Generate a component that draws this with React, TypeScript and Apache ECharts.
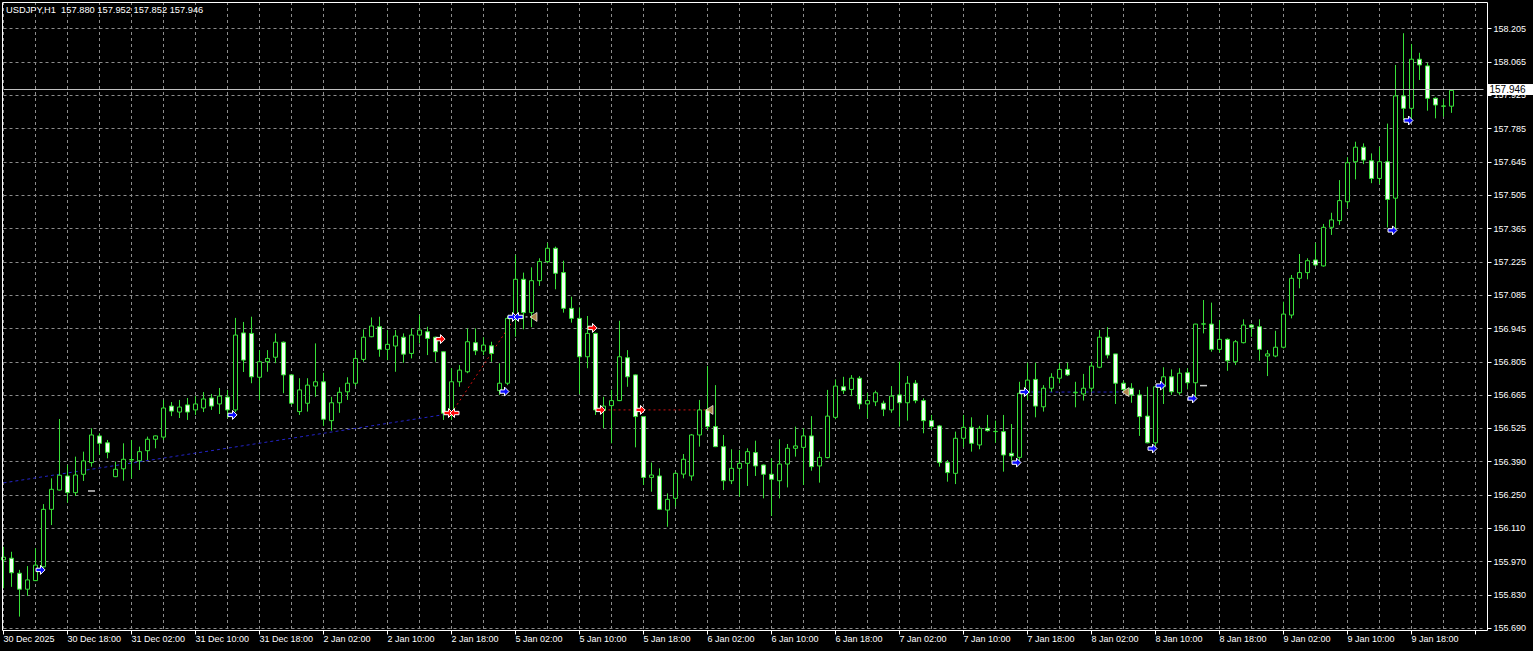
import React, { useEffect, useRef } from 'react';
import * as echarts from 'echarts';

// ---- categories (hourly bars, H1) ----
const dayHours: [string, number, number][] = [
  ['30 Dec', 10, 23], ['31 Dec', 0, 23], ['2 Jan', 0, 23], ['5 Jan', 0, 23],
  ['6 Jan', 0, 23], ['7 Jan', 0, 23], ['8 Jan', 0, 23], ['9 Jan', 0, 23],
];
const emptySlots = 4;
const firstLabel = '30 Dec 2025';

// ---- candles: [open, close, low, high] ----
const candles: number[][] = [
  [155.977, 155.988, 155.858, 156.032], [155.984, 155.923, 155.864, 156.011], [155.921, 155.854, 155.739, 155.935],
  [155.854, 155.893, 155.826, 155.951], [155.890, 155.955, 155.888, 156.026], [155.948, 156.189, 155.945, 156.211],
  [156.189, 156.273, 156.123, 156.319], [156.270, 156.332, 156.268, 156.568], [156.329, 156.259, 156.217, 156.375],
  [156.259, 156.333, 156.245, 156.410], [156.336, 156.392, 156.308, 156.431], [156.385, 156.501, 156.368, 156.529],
  [156.497, 156.466, 156.417, 156.508], [156.468, 156.428, 156.403, 156.480], [156.326, 156.357, 156.324, 156.389],
  [156.359, 156.399, 156.309, 156.466], [156.396, 156.398, 156.319, 156.480], [156.393, 156.431, 156.354, 156.452],
  [156.435, 156.483, 156.396, 156.494], [156.483, 156.497, 156.445, 156.499], [156.492, 156.614, 156.480, 156.648],
  [156.622, 156.601, 156.580, 156.639], [156.597, 156.618, 156.572, 156.648], [156.627, 156.597, 156.564, 156.656],
  [156.606, 156.631, 156.585, 156.664], [156.614, 156.652, 156.597, 156.681], [156.656, 156.622, 156.606, 156.673],
  [156.631, 156.664, 156.589, 156.698], [156.660, 156.606, 156.572, 156.690], [156.606, 156.920, 156.597, 156.992],
  [156.929, 156.815, 156.765, 156.975], [156.927, 156.745, 156.718, 156.997], [156.743, 156.808, 156.648, 156.857],
  [156.808, 156.822, 156.766, 156.857], [156.827, 156.890, 156.802, 156.927], [156.890, 156.753, 156.676, 156.893],
  [156.753, 156.634, 156.627, 156.755], [156.599, 156.690, 156.585, 156.739], [156.634, 156.710, 156.599, 156.739],
  [156.706, 156.724, 156.661, 156.885], [156.724, 156.567, 156.539, 156.762], [156.561, 156.636, 156.519, 156.661],
  [156.636, 156.680, 156.594, 156.701], [156.682, 156.718, 156.648, 156.743], [156.718, 156.822, 156.706, 156.857],
  [156.818, 156.911, 156.808, 156.944], [156.913, 156.958, 156.911, 156.994], [156.955, 156.860, 156.829, 156.997],
  [156.860, 156.881, 156.815, 156.941], [156.874, 156.916, 156.766, 156.941], [156.911, 156.840, 156.804, 156.927],
  [156.843, 156.920, 156.822, 156.948], [156.920, 156.941, 156.885, 157.004], [156.934, 156.906, 156.836, 156.955],
  [156.911, 156.850, 156.808, 156.913], [156.850, 156.592, 156.564, 156.852], [156.585, 156.724, 156.564, 156.781],
  [156.724, 156.773, 156.703, 156.794], [156.766, 156.892, 156.760, 156.948], [156.888, 156.854, 156.836, 156.948],
  [156.853, 156.878, 156.836, 156.911], [156.875, 156.843, 156.808, 156.892], [156.687, 156.718, 156.669, 156.802],
  [156.718, 156.990, 156.710, 157.000], [156.994, 157.154, 156.913, 157.256], [157.154, 157.014, 156.944, 157.182],
  [157.014, 157.148, 156.953, 157.204], [157.148, 157.228, 157.126, 157.242], [157.228, 157.284, 157.221, 157.307],
  [157.284, 157.179, 157.112, 157.291], [157.182, 157.032, 157.014, 157.232], [157.032, 156.990, 156.972, 157.081],
  [156.990, 156.829, 156.673, 157.036], [156.829, 156.927, 156.781, 157.000], [156.927, 156.606, 156.585, 156.930],
  [156.603, 156.622, 156.529, 156.661], [156.624, 156.645, 156.466, 156.690], [156.645, 156.829, 156.643, 156.980],
  [156.825, 156.745, 156.703, 156.857], [156.753, 156.578, 156.449, 156.755], [156.578, 156.323, 156.291, 156.580],
  [156.323, 156.333, 156.263, 156.385], [156.329, 156.189, 156.186, 156.361], [156.186, 156.231, 156.116, 156.256],
  [156.235, 156.340, 156.200, 156.347], [156.337, 156.399, 156.319, 156.421], [156.329, 156.501, 156.309, 156.505],
  [156.501, 156.606, 156.452, 156.648], [156.606, 156.536, 156.522, 156.790], [156.536, 156.452, 156.450, 156.710],
  [156.452, 156.309, 156.270, 156.501], [156.309, 156.361, 156.295, 156.441], [156.361, 156.382, 156.242, 156.438],
  [156.382, 156.431, 156.287, 156.445], [156.427, 156.371, 156.329, 156.477], [156.375, 156.336, 156.235, 156.377],
  [156.336, 156.315, 156.161, 156.403], [156.309, 156.379, 156.235, 156.483], [156.379, 156.445, 156.281, 156.463],
  [156.445, 156.455, 156.410, 156.536], [156.449, 156.497, 156.291, 156.529], [156.497, 156.368, 156.351, 156.580],
  [156.371, 156.407, 156.301, 156.431], [156.406, 156.580, 156.403, 156.690], [156.575, 156.706, 156.567, 156.734],
  [156.703, 156.687, 156.673, 156.745], [156.692, 156.739, 156.664, 156.752], [156.739, 156.631, 156.609, 156.748],
  [156.631, 156.645, 156.571, 156.678], [156.640, 156.678, 156.622, 156.687], [156.634, 156.609, 156.580, 156.645],
  [156.606, 156.664, 156.594, 156.706], [156.669, 156.636, 156.536, 156.808], [156.636, 156.718, 156.561, 156.748],
  [156.718, 156.645, 156.634, 156.731], [156.645, 156.561, 156.508, 156.655], [156.561, 156.536, 156.522, 156.585],
  [156.539, 156.385, 156.368, 156.543], [156.385, 156.343, 156.305, 156.396], [156.340, 156.487, 156.295, 156.515],
  [156.487, 156.533, 156.449, 156.585], [156.533, 156.466, 156.431, 156.575], [156.459, 156.529, 156.441, 156.539],
  [156.529, 156.519, 156.515, 156.585], [156.515, 156.516, 156.468, 156.561], [156.515, 156.417, 156.347, 156.585],
  [156.424, 156.413, 156.393, 156.547], [156.407, 156.676, 156.389, 156.724], [156.678, 156.731, 156.648, 156.804],
  [156.734, 156.622, 156.575, 156.804], [156.619, 156.697, 156.599, 156.710], [156.697, 156.743, 156.682, 156.760],
  [156.739, 156.776, 156.718, 156.802], [156.776, 156.753, 156.748, 156.804], [156.678, 156.680, 156.617, 156.724],
  [156.673, 156.697, 156.645, 156.757], [156.697, 156.790, 156.682, 156.808], [156.785, 156.911, 156.781, 156.941],
  [156.911, 156.836, 156.822, 156.953], [156.841, 156.718, 156.631, 156.841], [156.718, 156.692, 156.682, 156.729],
  [156.697, 156.669, 156.636, 156.718], [156.669, 156.578, 156.497, 156.690], [156.580, 156.468, 156.466, 156.703],
  [156.468, 156.703, 156.455, 156.704], [156.703, 156.745, 156.631, 156.785], [156.745, 156.682, 156.669, 156.776],
  [156.678, 156.760, 156.669, 156.781], [156.762, 156.720, 156.692, 156.781], [156.720, 156.966, 156.661, 156.967],
  [156.966, 156.967, 156.927, 157.067], [156.966, 156.860, 156.850, 157.056], [156.860, 156.902, 156.846, 156.983],
  [156.902, 156.812, 156.770, 156.906], [156.808, 156.892, 156.794, 156.899], [156.888, 156.962, 156.885, 156.986],
  [156.962, 156.953, 156.913, 156.966], [156.955, 156.860, 156.812, 156.986], [156.832, 156.841, 156.748, 156.857],
  [156.832, 156.869, 156.827, 156.938], [156.869, 157.008, 156.864, 157.060], [157.004, 157.158, 156.990, 157.172],
  [157.158, 157.182, 157.116, 157.260], [157.182, 157.232, 157.154, 157.242], [157.235, 157.214, 157.210, 157.307],
  [157.210, 157.372, 157.207, 157.386], [157.372, 157.403, 157.340, 157.433], [157.400, 157.484, 157.382, 157.570],
  [157.479, 157.643, 157.452, 157.666], [157.647, 157.708, 157.573, 157.731], [157.708, 157.654, 157.637, 157.724],
  [157.651, 157.577, 157.557, 157.682], [157.577, 157.647, 157.554, 157.710], [157.647, 157.489, 157.371, 157.807],
  [157.494, 157.923, 157.361, 158.053], [157.923, 157.871, 157.822, 158.186], [157.871, 158.077, 157.822, 158.141],
  [158.077, 158.053, 157.990, 158.104], [158.049, 157.913, 157.861, 158.062], [157.913, 157.885, 157.829, 157.917],
  [157.881, 157.880, 157.836, 157.909], [157.880, 157.946, 157.852, 157.952],
];

// ---- price axis ----
const yTickLabels = [
  '155.690', '155.830', '155.970', '156.110', '156.250', '156.390', '156.525', '156.665', '156.805', '156.945',
  '157.085', '157.225', '157.365', '157.505', '157.645', '157.785', '157.925', '158.065', '158.205',
];
const yMin = 155.6808;
const yMax = 158.317;
const lastPrice = 157.946;
const header = 'USDJPY,H1  157.880 157.952 157.852 157.946';

// ---- trade markers: [bar index, price] ----
const buyArrows = [[4, 155.935], [28, 156.585], [62, 156.683], [63, 156.996], [126, 156.385], [127, 156.681],
  [143, 156.444], [144, 156.708], [148, 156.654], [173, 157.359], [175, 157.820]];
const sellArrows = [[54, 156.903], [55, 156.593], [73, 156.950], [74, 156.606], [79, 156.606]];
const buyCloseArrows = [[64, 156.996]];
const sellCloseArrows = [[56, 156.593]];
const closeArrows = [[66, 156.996], [88, 156.606], [140, 156.681]];
const dashMarks = [[11, 156.266], [150, 156.708]];
const blueTradeLines = [[[0, 156.300], [55, 156.586]], [[127, 156.681], [140, 156.681]]];
const redTradeLines = [[[56, 156.593], [64, 156.996]], [[75, 156.606], [88, 156.606]]];
const whiteTradeLines = [[[64, 156.996], [66, 156.996]]];

const GREEN = '#38e038';
const GRID = '#8c8c8c';
const FONT = '"Liberation Sans", Arial, sans-serif';

const RIGHT_ARROW = 'path://M0,2.5 L4,2.5 L4,0 L8,4 L4,8 L4,5.5 L0,5.5 Z';
const LEFT_ARROW = 'path://M8,2.5 L4,2.5 L4,0 L0,4 L4,8 L4,5.5 L8,5.5 Z';
const LEFT_TRI = 'path://M7,0 L0,4 L7,8 Z';

function buildCategories(): string[] {
  const out: string[] = [];
  dayHours.forEach(([d, a, b]) => {
    for (let h = a; h <= b; h++) out.push(`${d} ${String(h).padStart(2, '0')}:00`);
  });
  for (let i = 0; i < emptySlots; i++) out.push('');
  return out;
}

export default function App() {
  const ref = useRef<HTMLDivElement>(null);
  useEffect(() => {
    if (!ref.current) return;
    const chart = echarts.init(ref.current, undefined, { renderer: 'svg' });
    const categories = buildCategories();
    const yLo = parseFloat(yTickLabels[0]);
    const yHi = parseFloat(yTickLabels[yTickLabels.length - 1]);
    const step = (yHi - yLo) / (yTickLabels.length - 1);
    const yTickValues = yTickLabels.map((_, i) => yLo + step * i);

    const lineSeries = (segs: number[][][], color: string, type: any) =>
      segs.map((seg) => ({
        type: 'line', data: seg, symbol: 'none', silent: true, z: 1,
        lineStyle: { color, width: 1, type },
      }));

    const arrowSeries = (data: number[][], symbol: string, color: string, size: number[], offset: number[]) => ({
      type: 'scatter', data, symbol, symbolSize: size, symbolOffset: offset, z: 5, silent: true,
      itemStyle: { color, borderColor: '#ffffff', borderWidth: 1, opacity: 1 },
    });

    const option: any = {
      animation: false,
      backgroundColor: '#000000',
      textStyle: { fontFamily: FONT },
      title: {
        text: header, left: 6, top: 5, padding: 0,
        textStyle: { color: '#ffffff', fontSize: 9.3, fontWeight: 'normal', fontFamily: FONT },
      },
      grid: { left: 3.5, right: 49.5, top: 2, bottom: 20.5, containLabel: false },
      xAxis: {
        type: 'category', data: categories, boundaryGap: false,
        axisLine: { show: false },
        axisTick: { show: true, interval: 7, length: 4, lineStyle: { color: '#ffffff' } },
        axisLabel: {
          interval: 7, color: '#ffffff', fontSize: 9, align: 'left', margin: 4, fontFamily: FONT,
          formatter: (v: string, i: number) => (i === 0 ? firstLabel : v),
        },
        splitLine: { show: true, interval: 3, lineStyle: { color: GRID, type: [3, 3], width: 1 } },
      },
      yAxis: {
        type: 'value', position: 'right', offset: 4, min: yMin, max: yMax,
        axisLine: { show: false },
        axisTick: { show: true, length: 4, customValues: yTickValues, lineStyle: { color: '#ffffff' } },
        axisLabel: {
          customValues: yTickValues, color: '#ffffff', fontSize: 9, margin: 6, fontFamily: FONT,
          formatter: (v: number) => yTickLabels[Math.round((v - yLo) / step)] ?? '',
        },
        splitLine: { show: true, lineStyle: { color: GRID, type: [3, 3], width: 1 } },
      },
      graphic: [
        {
          type: 'rect', z: 50, silent: true,
          shape: { x: 2.5, y: 2.5, width: 1485, height: 628 },
          style: { fill: 'none', stroke: '#ffffff', lineWidth: 1 },
        },
      ],
      series: [
        ...lineSeries(blueTradeLines, '#2424c8', [3, 3]),
        ...lineSeries(redTradeLines, '#d01010', [2, 3]),
        ...lineSeries(whiteTradeLines, '#ffffff', [2, 3]),
        {
          type: 'candlestick', data: candles, barWidth: 4, z: 3,
          itemStyle: { color: '#000000', color0: '#f4fff4', borderColor: GREEN, borderColor0: GREEN, borderWidth: 1 },
          markLine: {
            silent: true, symbol: ['none', 'none'], animation: false,
            lineStyle: { color: '#c0c0c0', type: 'solid', width: 1 },
            label: {
              show: true, position: 'end', distance: 4, formatter: lastPrice.toFixed(3),
              backgroundColor: '#ffffff', color: '#000000', fontSize: 10, padding: [1, 8, 0, 2], fontFamily: FONT,
            },
            data: [{ yAxis: lastPrice }],
          },
        },
        arrowSeries(buyArrows, RIGHT_ARROW, '#0a0aff', [9, 9], [5, 0]),
        arrowSeries(sellArrows, RIGHT_ARROW, '#ff0a0a', [9, 9], [5, 0]),
        arrowSeries(buyCloseArrows, LEFT_ARROW, '#0a0aff', [9, 9], [3, 0]),
        arrowSeries(sellCloseArrows, LEFT_ARROW, '#ff0a0a', [9, 9], [3, 0]),
        {
          type: 'scatter', data: closeArrows, symbol: LEFT_TRI, symbolSize: [7, 9], symbolOffset: [2, 0], z: 5,
          silent: true, itemStyle: { color: '#d8a860', borderColor: '#ffffff', borderWidth: 0.8 },
        },
        {
          type: 'scatter', data: dashMarks, symbol: 'rect', symbolSize: [7, 1.5], z: 5, silent: true,
          itemStyle: { color: '#ffffff' },
        },
      ],
    };
    chart.setOption(option);
    return () => chart.dispose();
  }, []);
  return <div ref={ref} style={{ position: 'absolute', left: 0, top: 0, width: 1533, height: 651 }} />;
}
